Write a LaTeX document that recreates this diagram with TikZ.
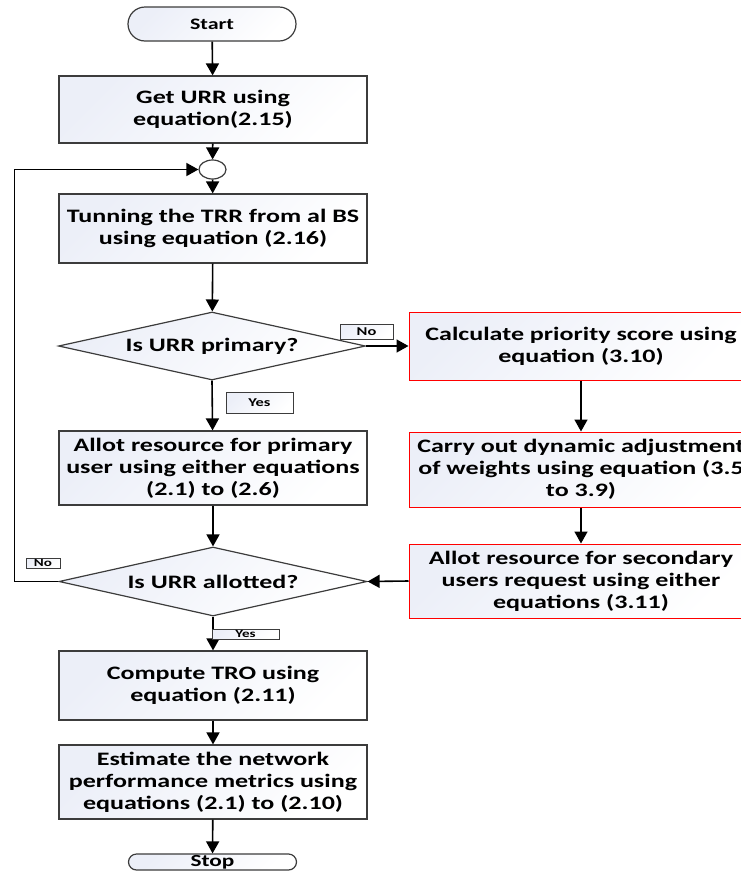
\documentclass[tikz,border=0pt]{standalone}
\usepackage{fontspec}
\setmainfont{Carlito}[FakeStretch=1.37]
\usetikzlibrary{shapes.geometric,shapes.misc,arrows.meta}
\definecolor{boxblue}{RGB}{236,239,248}
\definecolor{edgegray}{RGB}{60,60,60}
\begin{document}
\begin{tikzpicture}
[x=1pt,y=-1pt,>={Triangle[width=13pt,length=12pt]},font=\bfseries\fontsize{19}{22}\selectfont]
\tikzstyle{every node}=[align=center,inner sep=0pt]
\tikzstyle{softfill}=[left color=boxblue,middle color=white,right color=white,shading angle=45]
\tikzstyle{stepbox}=[rectangle,draw=edgegray,line width=1.2pt,softfill,minimum width=308pt]
\tikzstyle{redbox}=[stepbox,draw=red,line width=1pt,minimum width=344pt]
\tikzstyle{ask}=[diamond,shape aspect=4.5,draw=edgegray,line width=1.2pt,softfill,minimum width=307pt,minimum height=68pt]
\tikzstyle{term}=[rounded rectangle,draw=edgegray,line width=1.2pt,softfill,minimum width=168pt,font=\bfseries\fontsize{16}{16}\selectfont]
\tikzstyle{tag}=[rectangle,draw=edgegray,line width=1pt,softfill,font=\bfseries\fontsize{12}{12}\selectfont]
\tikzstyle{flow}=[->,line width=1.6pt]
\useasboundingbox (0,0) rectangle (740,871);
\node[term,minimum height=34pt] (start) at (212,24) {Start};
\node[stepbox,minimum height=67pt] (get) at (213,109.5) {Get URR using\\equation(2.15)};
\node[ellipse,draw=edgegray,line width=1.2pt,fill=white,minimum width=27pt,minimum height=19pt] (conn) at (212.5,169.5) {};
\node[stepbox,minimum height=69pt] (tune) at (213,228.5) {Tunning the TRR from al BS\\using equation (2.16)};
\node[ask] (prim) at (212,346) {Is URR primary?};
\node[redbox,minimum height=68pt] (score) at (581,346) {Calculate priority score using\\equation (3.10)};
\node[stepbox,minimum height=74pt] (allotp) at (213,468) {Allot resource for primary\\user using either equations\\(2.1) to (2.6)};
\node[redbox,minimum height=75pt] (weight) at (581,469.5) {Carry out dynamic adjustment\\of weights using equation (3.5\\to 3.9)};
\node[ask,minimum width=308pt,minimum height=69pt] (allotted) at (213,581.5) {Is URR allotted?};
\node[redbox,minimum height=74pt] (allots) at (581,581) {Allot resource for secondary\\users request using either\\equations (3.11)};
\node[stepbox,minimum height=69pt] (tro) at (213,685.5) {Compute TRO using\\equation (2.11)};
\node[stepbox,minimum height=74pt] (est) at (213,782) {Estimate the network\\performance metrics using\\equations (2.1) to (2.10)};
\node[term,minimum height=16pt,font=\bfseries\fontsize{17}{17}\selectfont] (stop) at (212.5,862) {Stop};
\draw[flow] (start) -- (get);
\draw[flow] (get) -- (conn);
\draw[flow] (conn) -- (tune);
\draw[flow] (tune) -- (prim);
\draw[flow] (prim.east) -- (score.west);
\draw[flow] (prim.south) -- (allotp);
\draw[flow] (score) -- (weight);
\draw[flow] (weight) -- (allots);
\draw[flow] (allots.west) -- (allotted.east);
\draw[flow] (allotp) -- (allotted);
\draw[flow] (allotted.south) -- (tro);
\draw[flow] (tro) -- (est);
\draw[flow] (est) -- (stop);
\draw[flow] (allotted.west) -- ++(-44,0) |- (conn.west);
\node[tag,minimum width=53pt,minimum height=15pt] (no1) at (366.5,331.5) {No};
\node[tag,minimum width=67pt,minimum height=21pt] (yes1) at (259.5,402.5) {Yes};
\node[tag,minimum width=34pt,minimum height=10pt,font=\bfseries\fontsize{11}{11}\selectfont] (no2) at (43,563) {No};
\node[tag,minimum width=67pt,minimum height=10pt,font=\bfseries\fontsize{11}{11}\selectfont] (yes2) at (245.5,634) {Yes};
\end{tikzpicture}
\end{document}
